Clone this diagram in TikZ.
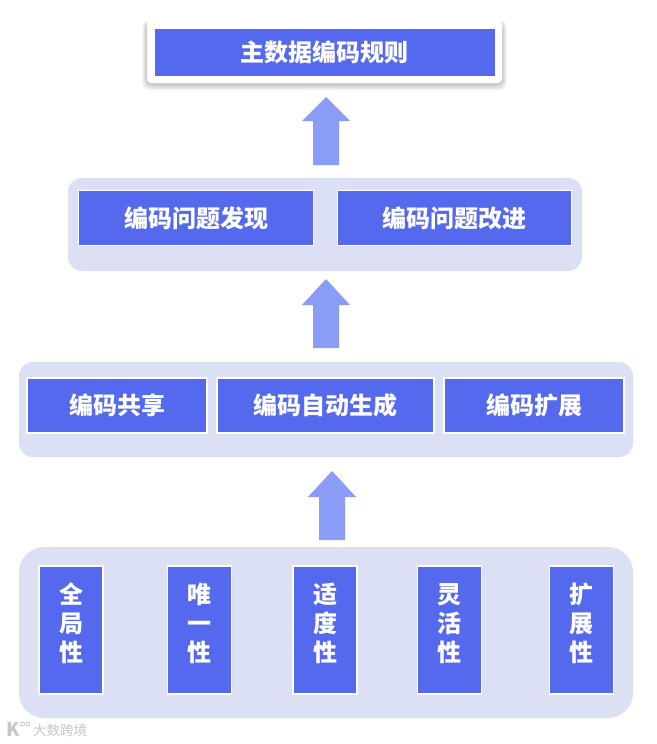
\documentclass[tikz,border=0pt]{standalone}
\usepackage{fontspec}
\setmainfont{Noto Sans CJK SC}[BoldFont={Noto Sans CJK SC Black}]
\definecolor{blueBox}{HTML}{5569EE}
\definecolor{panelBg}{HTML}{DCE0F5}
\definecolor{arrowBlue}{HTML}{8B9CF6}
\definecolor{markGrey}{HTML}{C4C7CC}
\tikzset{
  x=1pt,y=-1pt,
  panel/.style={fill=panelBg,rounded corners=#1},
  bluebox/.style={fill=blueBox,draw=white,line width=1.7pt,inner sep=0pt,text=white,font=\fontsize{24}{24}\selectfont\bfseries,align=center},
  uparrow/.style={fill=arrowBlue},
}
\newcommand{\lowered}[1]{\raisebox{-1pt}{#1}}
\newcommand{\blockarrow}[4]{% x centre, tip, head base, bottom
  \fill[uparrow] (#1,#2) -- (#1+24,#3) -- (#1+13,#3) -- (#1+13,#4) -- (#1-13,#4) -- (#1-13,#3) -- (#1-24,#3) -- cycle;}
\begin{document}
\begin{tikzpicture}
\useasboundingbox (0,0) rectangle (656,744);
\fill[white] (0,0) rectangle (656,744);
% top card with soft shadow
\foreach \g in {8,7,6,5,4,3,2,1}{
  \fill[black,opacity=0.028,rounded corners=7] (147-\g*0.6,23-\g*0.35) rectangle (502+\g*0.6,84+\g*0.8);
}
\fill[white,rounded corners=4] (147,20) rectangle (502,83);
\node[bluebox,draw=none,minimum width=340,minimum height=47] (title) at (324.5,52) {主数据编码规则};
\blockarrow{326}{97}{121}{165}
% panel 2
\fill[panel=14] (68,178) rectangle (582,271);
\node[bluebox,minimum width=235,minimum height=55] (find) at (196,218) {\lowered{编码问题发现}};
\node[bluebox,minimum width=234,minimum height=55] (fix) at (454.5,218) {\lowered{编码问题改进}};
\blockarrow{326}{279}{305}{348}
% panel 3
\fill[panel=14] (19,362) rectangle (633,457);
\node[bluebox,minimum width=180,minimum height=55] (share) at (117,405.5) {\lowered{编码共享}};
\node[bluebox,minimum width=217,minimum height=55] (auto) at (325.5,405.5) {\lowered{编码自动生成}};
\node[bluebox,minimum width=180,minimum height=55] (ext) at (534,405.5) {\lowered{编码扩展}};
\blockarrow{332}{471}{497}{540}
% panel 4
\fill[panel=25] (19,547) rectangle (633,718);
\foreach \n/\cx/\t in {a/71/全\\局\\性,b/199.5/唯\\一\\性,c/325/适\\度\\性,d/449.5/灵\\活\\性,e/581.5/扩\\展\\性}{
  \node[bluebox,minimum width=64,minimum height=128] (box\n) at (\cx,630) {};
  \node[text=white,inner sep=0pt,align=center,font=\fontsize{24}{29}\selectfont\bfseries,anchor=north] (lab\n) at (\cx,583) {\t};
}
% watermark
\node[text=markGrey,inner sep=0pt,anchor=west,font=\fontsize{13.5}{14}\selectfont] (mark) at (33,730.5) {大数跨境};
\node[text=markGrey,inner sep=0pt,anchor=west,font=\fontsize{19}{19}\selectfont\bfseries] (logo) at (6,729) {K};
\draw[markGrey,line width=0.8pt] (22.5,724) circle (2) (28,724) circle (2);
\end{tikzpicture}
\end{document}
